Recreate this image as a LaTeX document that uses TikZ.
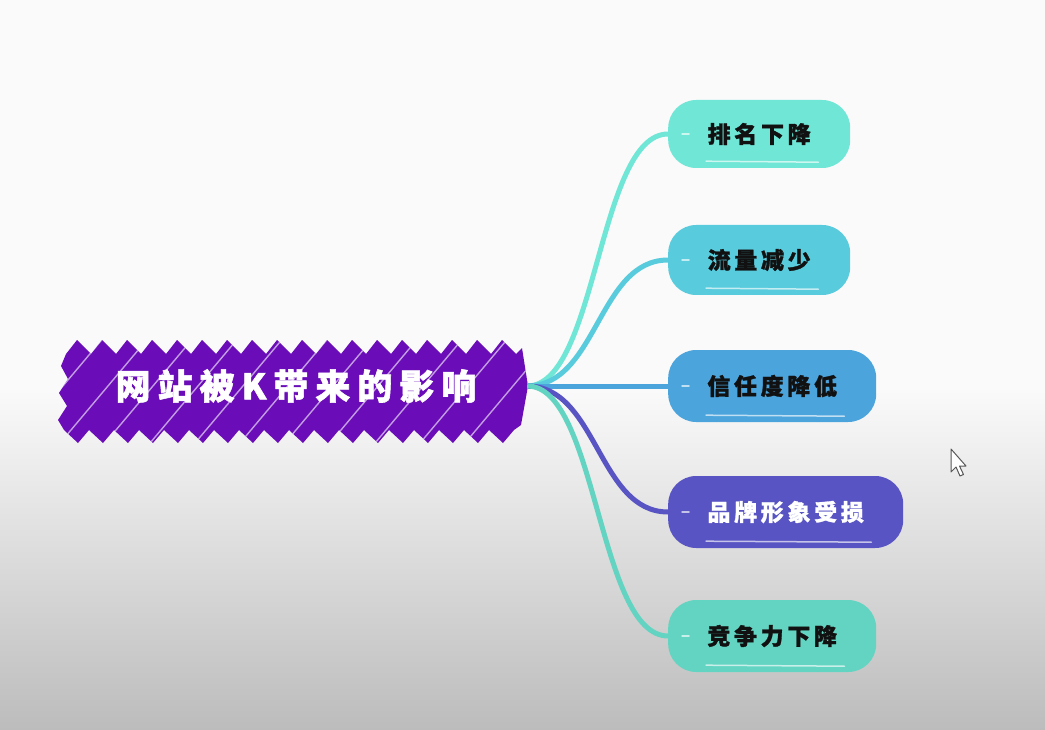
\documentclass[tikz,border=0pt]{standalone}
\usepackage{fontspec}
\newfontfamily\rootfam{Noto Sans CJK SC}[LetterSpace=20, FakeBold=1.6]
\newfontfamily\kidfam{Noto Sans CJK SC}[LetterSpace=16, FakeBold=1.2]
\definecolor{bgtop}{HTML}{FAFAFA}
\definecolor{bgbot}{HTML}{BCBCBC}
\definecolor{rootcol}{HTML}{6A0DB8}
\definecolor{cone}{HTML}{6FE6D6}
\definecolor{ctwo}{HTML}{58CBDD}
\definecolor{cthree}{HTML}{4BA4DC}
\definecolor{cfour}{HTML}{5954C3}
\definecolor{cfive}{HTML}{63D4C1}
\definecolor{inkcol}{HTML}{111111}
\begin{document}
\begin{tikzpicture}[x=1pt,y=-1pt,
  pill/.style={rounded corners=28pt, minimum height=70pt, inner sep=0pt, anchor=west,
    font=\kidfam\bfseries\fontsize{23pt}{26pt}\selectfont, text=inkcol},
  link/.style={line width=5pt},
  shine/.style={white, opacity=.65, line width=1.5pt, line cap=round},
]
\useasboundingbox (0,0) rectangle (1045,730);
\fill[bgtop] (0,0) rectangle (1045,730);
\shade[top color=bgtop, bottom color=bgbot] (0,390) rectangle (1045,730);

% root scribble
\begin{scope}
\clip (66,354) \foreach \i in {1,...,18}{ -- ++(11,-14) -- ++(14,14) }
  -- (522,348) -- (528,386) -- (521,425) -- (514,430)
  \foreach \i in {1,...,18}{ -- ++(-11,13) -- ++(-14,-13) }
  -- (58,420) -- (67,406) -- (59,393) -- (68,379) -- (61,366) -- cycle;
\fill[rootcol] (40,320) rectangle (540,460);
\foreach \x in {-40,5,...,560}
  \draw[white, opacity=.6, line width=1.4pt] (\x,455) -- ++(105,-125);
\end{scope}

\node[minimum width=462pt, minimum height=100pt, inner sep=0pt, text=white,
  font=\rootfam\bfseries\fontsize{35pt}{38pt}\selectfont] (root) at (296,386) {网站被K带来的影响};

% children
\node[pill, fill=cone, minimum width=182pt, minimum height=68pt] (c1) at (668,134) {排名下降};
\node[pill, fill=ctwo, minimum width=182pt] (c2) at (668,260) {流量减少};
\node[pill, fill=cthree, minimum width=208pt, minimum height=72pt] (c3) at (668,386) {信任度降低};
\node[pill, fill=cfour, minimum width=235pt, minimum height=72pt, text=white] (c4) at (668,512) {品牌形象受损};
\node[pill, fill=cfive, minimum width=208pt, minimum height=72pt] (c5) at (668,636) {竞争力下降};

% connectors
\draw[link, cone] (root.east) .. controls +(70,0) and +(-70,0) .. (c1.west);
\draw[link, ctwo] (root.east) .. controls +(70,0) and +(-70,0) .. (c2.west);
\draw[link, cthree] (root.east) -- (c3.west);
\draw[link, cfour] (root.east) .. controls +(70,0) and +(-70,0) .. (c4.west);
\draw[link, cfive] (root.east) .. controls +(70,0) and +(-70,0) .. (c5.west);

% pill highlights
\foreach \n in {c1,c2,c3,c4,c5}{
  \draw[shine] ([xshift=38pt,yshift=7pt]\n.south west) -- ([xshift=-32pt,yshift=6pt]\n.south east);
  \draw[shine] ([xshift=14pt]\n.west) -- ([xshift=21pt]\n.west);
}

% mouse cursor
\filldraw[fill=white, draw=gray!70!black, line width=1pt, line join=round]
  (951,449) -- (951,472) -- (956,467) -- (960,476) -- (963.5,474.5) -- (959.5,466) -- (966,466) -- cycle;
\end{tikzpicture}
\end{document}
